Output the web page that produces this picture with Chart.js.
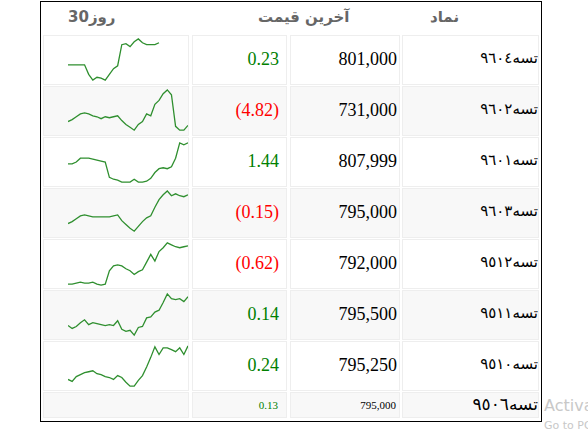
<!DOCTYPE html>
<html><head><meta charset="utf-8">
<script src="https://cdn.jsdelivr.net/npm/chart.js@4"></script>
<style>
body{margin:0;width:588px;height:434px;background:#fff;position:relative;overflow:hidden;font-family:"Liberation Serif",serif}
#frame{position:absolute;left:40px;top:1px;width:500px;height:419px;border:1px solid #000}
.c{position:absolute;box-sizing:border-box;border:1px solid #eee}
.t{position:absolute;font-size:18px;white-space:nowrap}
.h{position:absolute;top:8px;font:bold 15px "DejaVu Sans",sans-serif;color:#666}
.spark{position:absolute;width:120px;height:48px}
.wm{position:absolute;white-space:nowrap;color:#c8c8c8;font-family:"DejaVu Sans",sans-serif}
</style></head><body>
<div id="frame"></div>
<div class="h" style="left:68px">30روز</div>
<div class="h" style="left:258px">آخرین قیمت</div>
<div class="h" style="left:430px">نماد</div>
<div id="rows"></div>
<div class="wm" style="left:544px;top:396px;font-size:16px">Activate W</div>
<div class="wm" style="left:544px;top:419px;font-size:11px">Go to PC set</div>
<script>
// table data
const symbols = ['تسه٩٦٠٤','تسه٩٦٠٢','تسه٩٦٠١','تسه٩٦٠٣','تسه٩٥١٢','تسه٩٥١١','تسه٩٥١٠'];
const prices = ['801,000','731,000','807,999','795,000','792,000','795,500','795,250'];
const changes = ['0.23','(4.82)','1.44','(0.15)','(0.62)','0.14','0.24'];
const lastRow = {symbol: 'تسه٩٥٠٦', price: '795,000', change: '0.13'};

// 30-day sparkline values (row heights)
const spark1 = [19,19,19,19,19,9,3,6,5,3,9,15,18,40,41,38,43,46,42,40,40,40,42];
const spark2 = [13,15,18,21,22,21,19,18,16,18,17,18,19,14,10,7,4,10,13,21,19,31,35,42,46,41,8,4,4,9];
const spark3 = [22,22,24,28,28,28,27,26,25,24,8,6,5,3,3,3,6,3,3,4,7,13,17,18,17,19,28,44,42,44];
const spark4 = [13,15,18,21,22,21,20,20,20,20,20,21,22,16,12,8,5,10,15,19,21,30,38,43,47,42,44,42,41,43];
const spark5 = [3,3,4,5,4,4,5,3,2,3,17,22,23,22,19,17,13,16,18,26,34,27,37,41,46,44,42,41,42,43];
const spark6 = [13,10,12,16,19,14,16,15,14,13,14,13,18,9,7,8,3,11,12,21,22,27,29,37,46,41,40,41,38,43];
const spark7 = [10,8,13,15,17,18,19,16,15,13,12,10,14,12,7,3,3,9,14,23,33,44,36,43,43,41,39,43,36,45];
const sparks = [spark1,spark2,spark3,spark4,spark5,spark6,spark7];
const days = Array.from({length: 30}, (_, i) => i + 1);

const rows = document.getElementById('rows');
function cell(x, y, w, h, bg) {
	const d = document.createElement('div');
	d.className = 'c';
	d.style.cssText = `left:${x}px;top:${y}px;width:${w}px;height:${h}px;background:${bg}`;
	rows.appendChild(d);
}
function text(s, right, y, style) {
	const d = document.createElement('div');
	d.className = 't';
	d.textContent = s;
	d.style.cssText = `right:${588 - right}px;top:${y}px;` + (style || '');
	rows.appendChild(d);
	return d;
}

symbols.forEach((sym, i) => {
	const top = 35 + i * 51;
	const bg = i % 2 ? '#f8f8f8' : '#fff';
	cell(43, top, 146, 50, bg);
	cell(192, top, 95, 50, bg);
	cell(290, top, 110, 50, bg);
	cell(402, top, 137, 50, bg);
	const neg = changes[i].startsWith('(');
	text(changes[i], 279, top + 14, 'color:' + (neg ? '#ff0000' : '#008000'));
	text(prices[i], 397, top + 14);
	const s = text(sym, 538, top + 14, 'font-family:"DejaVu Sans";font-size:15px');
	s.dir = 'rtl';

	const cv = document.createElement('canvas');
	const wrap = document.createElement('div');
	wrap.className = 'spark';
	wrap.style.cssText = `left:68px;top:${top + 1}px`;
	wrap.appendChild(cv);
	rows.appendChild(wrap);
	new Chart(cv, {
		type: 'line',
		data: {labels: days, datasets: [{data: sparks[i], borderColor: '#2f8f2f', borderWidth: 1.3, pointRadius: 0, tension: 0}]},
		options: {
			responsive: true, maintainAspectRatio: false, animation: false,
			layout: {padding: {top: 1, bottom: 1}},
			plugins: {legend: {display: false}, tooltip: {enabled: false}},
			scales: {x: {display: false}, y: {display: false, min: 0, max: 48}}
		}
	});
});

// last summary row
const lt = 392;
cell(43, lt, 146, 26, '#f8f8f8');
cell(192, lt, 95, 26, '#f8f8f8');
cell(290, lt, 110, 26, '#f8f8f8');
cell(402, lt, 137, 26, '#f8f8f8');
text(lastRow.change, 278, lt + 7, 'font-size:11px;color:#008000');
text(lastRow.price, 396, lt + 7, 'font-size:11px');
text(lastRow.symbol, 538, lt + 2, 'font-family:"DejaVu Sans";font-size:17px').dir = 'rtl';
</script>
</body></html>
